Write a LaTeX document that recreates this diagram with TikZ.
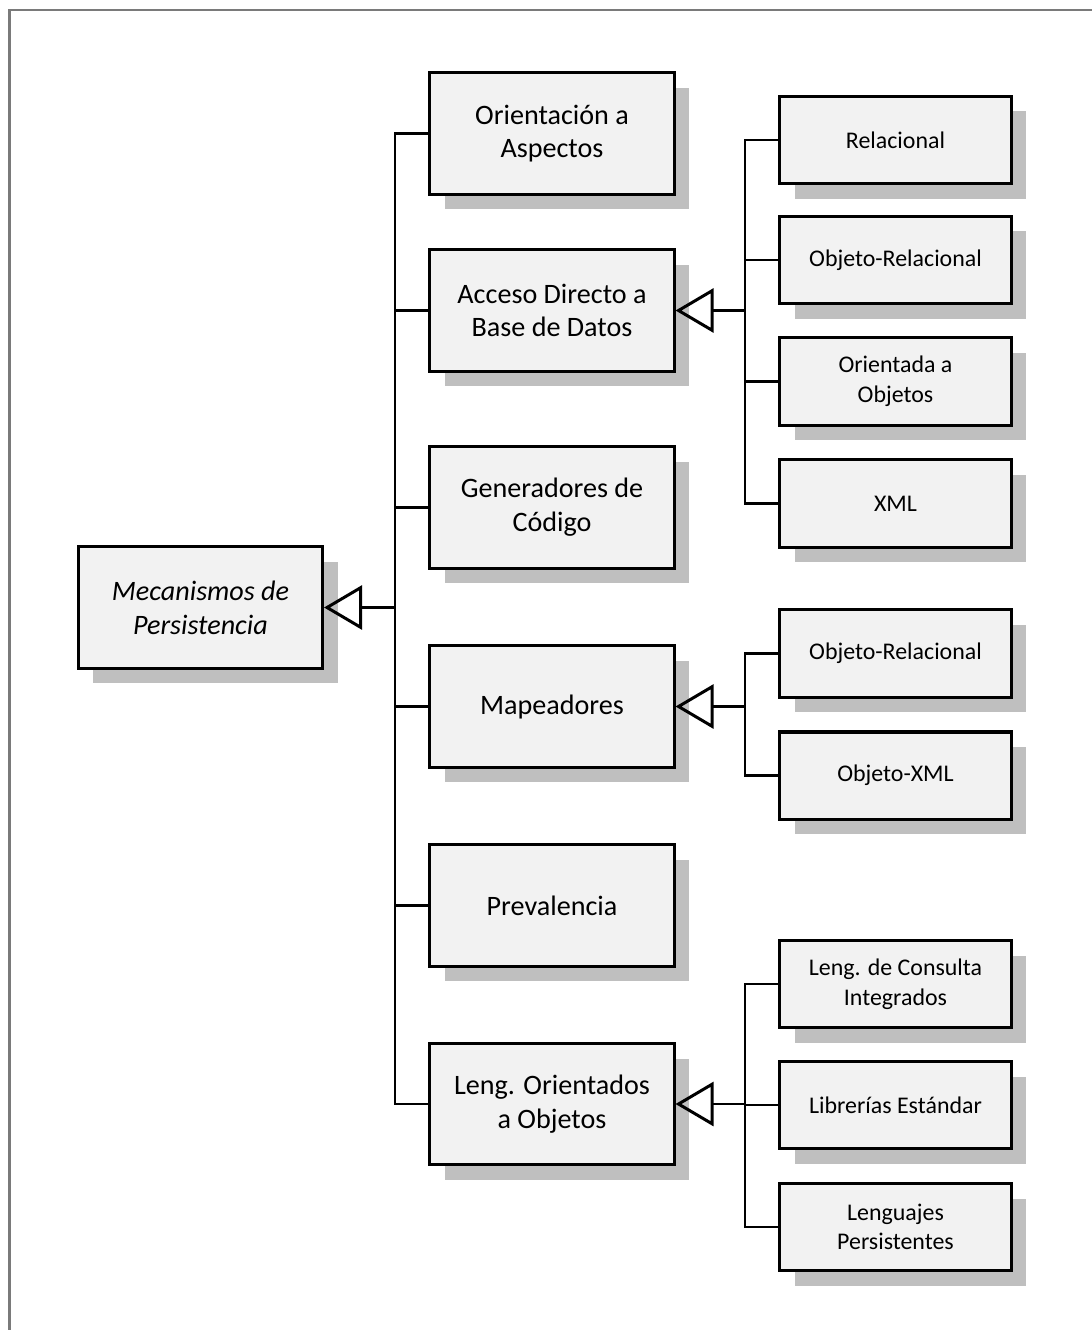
\documentclass[tikz,border=0pt]{standalone}
\usepackage{fontspec}
\setmainfont{Carlito}
\usetikzlibrary{arrows.meta,shadows}

\definecolor{boxfill}{HTML}{F2F2F2}
\definecolor{shadowgray}{HTML}{BFBFBF}
\definecolor{framegray}{HTML}{7A7A7A}

\begin{document}
\begin{tikzpicture}[
      x=0.025cm, y=-0.025cm,
      every node/.style={align=center},
      mainbox/.style={rectangle, draw, line width=0.075cm, fill=boxfill,
            minimum width=6.1cm, minimum height=3.025cm, inner sep=2pt,
            font=\fontsize{20}{24}\selectfont,
            drop shadow={shadow xshift=0.375cm, shadow yshift=-0.375cm,
                  fill=shadowgray, opacity=1}},
      subbox/.style={mainbox, minimum width=5.775cm, minimum height=2.175cm,
            font=\fontsize{17}{21}\selectfont},
      line/.style={line width=0.065cm},
      tri/.style={line, line join=miter,
            -{Triangle[open, length=0.95cm, width=1.1cm, line width=0.075cm]}}
]
\useasboundingbox (0,0) rectangle (1092,1330);
\draw[framegray, line width=0.05cm] (1092,10) -- (9.5,10) -- (9.5,1330);

% root and first level
\node[mainbox, font=\fontsize{20}{24}\selectfont\itshape] (root) at (200.5,607.5)
      {Mecanismos de\\Persistencia};
\node[mainbox] (ori) at (552,133.5) {Orientación a\\Aspectos};
\node[mainbox] (acc) at (552,310.5) {Acceso Directo a\\Base de Datos};
\node[mainbox] (gen) at (552,507.5) {Generadores de\\Código};
\node[mainbox] (map) at (552,706.5) {Mapeadores};
\node[mainbox] (pre) at (552,905.5) {Prevalencia};
\node[mainbox] (len) at (552,1104) {Leng. Orientados\\a Objetos};

% second level
\node[subbox] (rel) at (895.5,140) {Relacional};
\node[subbox] (objrel) at (895.5,260) {Objeto-Relacional};
\node[subbox] (orio) at (895.5,381.5) {Orientada a\\Objetos};
\node[subbox] (xml) at (895.5,503.5) {XML};
\node[subbox] (mapor) at (895.5,653.5) {Objeto-Relacional};
\node[subbox] (mapxml) at (895.5,775.5) {Objeto-XML};
\node[subbox] (lcons) at (895.5,984) {Leng. de Consulta\\Integrados};
\node[subbox] (llib) at (895.5,1105) {Librerías Estándar};
\node[subbox] (lpers) at (895.5,1227) {Lenguajes\\Persistentes};

% buses
\coordinate (jroot) at (395,607.5);
\coordinate (jacc) at (745,310.5);
\coordinate (jmap) at (745,706.5);
\coordinate (jlen) at (745,1104);

\foreach \n in {ori,acc,gen,map,pre,len}
      \draw[line] (jroot) |- (\n.west);
\draw[tri] (jroot) -- (root);

\foreach \n in {rel,objrel,orio,xml}
      \draw[line] (jacc) |- (\n.west);
\draw[tri] (jacc) -- (acc);

\foreach \n in {mapor,mapxml}
      \draw[line] (jmap) |- (\n.west);
\draw[tri] (jmap) -- (map);

\foreach \n in {lcons,llib,lpers}
      \draw[line] (jlen) |- (\n.west);
\draw[tri] (jlen) -- (len);
\end{tikzpicture}
\end{document}
